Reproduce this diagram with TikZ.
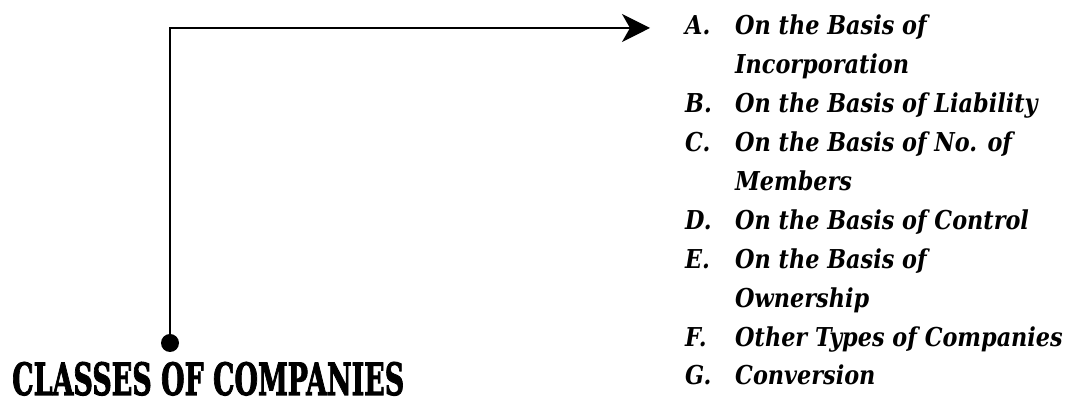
\documentclass[tikz,border=0pt]{standalone}
\usepackage{fontspec}
\usepackage{graphicx}
\usetikzlibrary{arrows.meta}
\newfontfamily\listfont{DejaVu Serif}
\newfontfamily\headfont{DejaVu Serif}[BoldFeatures={FakeBold=2.5}]
\newcommand\itemscale{0.86}
\newcommand\itemtext[1]{\scalebox{\itemscale}[1]{#1}}
\begin{document}
\begin{tikzpicture}[x=1pt,y=1pt,
  linkline/.style={line width=1.3pt, -{Stealth[length=28pt,width=28pt,inset=8pt]}},
  joint/.style={circle, fill=black, inner sep=0pt, minimum size=18pt},
  itemlabel/.style={anchor=base west, inner sep=0pt, font=\listfont\bfseries\itshape\fontsize{26}{26}\selectfont},
  headline/.style={anchor=base west, inner sep=0pt}]
\useasboundingbox (0,0) rectangle (1066,403);
% heading and the joint above it
\node[headline] (title) at (12,8) {\resizebox{392pt}{33pt}{\headfont\bfseries CLASSES OF COMPANIES}};
\node[joint] (dot) at (170,60) {};
\coordinate (tip) at (650,375);
\draw[linkline] (dot.center) |- (tip);
% list of classes
\foreach \l/\t/\y in {A./On the Basis of/35, /Incorporation/73.9, B./On the Basis of Liability/112.8,
  C./On the Basis of No. of/151.7, /Members/190.6, D./On the Basis of Control/229.5,
  E./On the Basis of/268.4, /Ownership/307.3, F./Other Types of Companies/346.2, G./Conversion/385}{
  \node[itemlabel] (l\y) at (685,403-\y) {\itemtext{\l}};
  \node[itemlabel] (t\y) at (735,403-\y) {\itemtext{\t}};
}
\end{tikzpicture}
\end{document}
